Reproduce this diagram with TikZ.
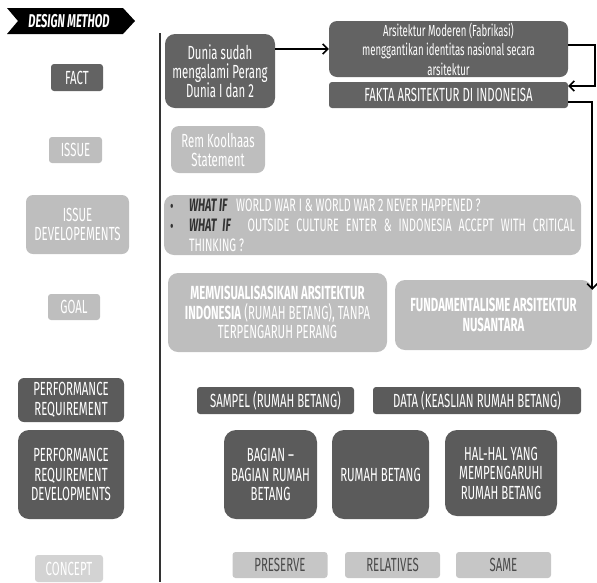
\documentclass[tikz,border=0pt]{standalone}
\usepackage{fontspec}
\setmainfont{Fira Sans}[FakeStretch=0.6]
\usetikzlibrary{arrows.meta}
\definecolor{dk}{HTML}{5B5B5B}
\definecolor{dkb}{HTML}{636363}
\definecolor{lt}{HTML}{BEBEBE}
\definecolor{ltc}{HTML}{D3D3D3}
\definecolor{ltp}{HTML}{C6C6C6}
\definecolor{ptx}{HTML}{4A4A4A}
\definecolor{wif}{HTML}{333333}
\newcommand\myfs{\fontsize{19}{19.5}\selectfont}
\newcommand\mymix{\fontsize{19}{19}\selectfont}
\newcommand\mysml{\fontsize{16}{19.5}\selectfont}
\begin{document}
\begin{tikzpicture}[x=1pt,y=-1pt,
  base/.style={rectangle, inner sep=0pt, align=center, font=\myfs},
  dkbox/.style={base, fill=dk, text=white},
  dkboxb/.style={base, fill=dkb, text=white},
  ltbox/.style={base, fill=lt, text=white},
  cbox/.style={base, fill=ltc, text=white},
  pbox/.style={base, fill=ltp, text=ptx, rounded corners=3pt, minimum width=95pt, minimum height=26pt},
  arr/.style={line width=1.6pt, black, -{Straight Barb[length=5pt,width=10pt,line width=1.6pt]}}
]
\useasboundingbox (0,0) rectangle (597,582);
% banner
\fill[black] (7,8) -- (123,8) -- (135,21) -- (123,34) -- (7,34) -- (18,21) -- cycle;
\node[base, text=white, font=\fontsize{18.5}{19}\selectfont\bfseries\itshape] (title) at (69,21) {DESIGN METHOD};
% divider
\draw[line width=1.3pt, black!80] (160,33) -- (160,582);
% left column
\node[dkboxb, rounded corners=3pt, minimum width=52pt, minimum height=27pt] (fact) at (77,77.5) {FACT};
\node[ltbox, rounded corners=3pt, minimum width=53pt, minimum height=26pt] (issue) at (75.5,150) {ISSUE};
\node[ltbox, rounded corners=7pt, minimum width=103pt, minimum height=59pt] (issuedev) at (77.5,224.5) {ISSUE\\DEVELOPEMENTS};
\node[ltbox, rounded corners=3pt, minimum width=52pt, minimum height=26pt] (goal) at (74,307) {GOAL};
\node[dkbox, rounded corners=6pt, minimum width=106pt, minimum height=44pt] (perfreq) at (71,400) {PERFORMANCE\\REQUIREMENT};
\node[dkbox, rounded corners=11pt, minimum width=106pt, minimum height=89pt] (prd) at (71,474.5) {PERFORMANCE\\REQUIREMENT\\DEVELOPMENTS};
\node[cbox, rounded corners=3pt, minimum width=68pt, minimum height=27pt] (concept) at (69,568.5) {CONCEPT};
% right column
\node[dkboxb, rounded corners=10pt, minimum width=110pt, minimum height=74pt, font=\mymix] (dunia) at (220,71) {Dunia sudah\\mengalami Perang\\Dunia I dan 2};
\node[dkboxb, rounded corners=8pt, minimum width=239pt, minimum height=56pt, font=\mysml] (arsi) at (448.5,49) {Arsitektur Moderen (Fabrikasi)\\menggantikan identitas nasional secara\\arsitektur};
\node[dkboxb, rounded corners=3pt, minimum width=239pt, minimum height=26pt] (fakta) at (448.5,95) {FAKTA ARSITEKTUR DI INDONEISA};
\node[ltbox, rounded corners=8pt, minimum width=94pt, minimum height=47pt, font=\mymix] (rem) at (218,149.5) {Rem Koolhaas\\Statement};
\node[ltbox, rounded corners=10pt, minimum width=417pt, minimum height=60pt, text width=405pt, align=justify,
  font=\fontsize{18}{20}\selectfont] (whatif) at (372.5,225)
  {\hangindent=19pt\hangafter=1\noindent\makebox[19pt][l]{\color{wif}\raisebox{-1pt}{\textbullet}}{\color{wif}\bfseries\itshape WHAT IF}\hspace{6pt} WORLD WAR I \& WORLD WAR 2 NEVER HAPPENED ?\par
   \hangindent=19pt\hangafter=1\noindent\makebox[19pt][l]{\color{wif}\raisebox{-1pt}{\textbullet}}{\color{wif}\bfseries\itshape WHAT IF}\hspace{10pt} OUTSIDE CULTURE ENTER \& INDONESIA ACCEPT WITH CRITICAL\linebreak THINKING ?\par};
\node[ltbox, rounded corners=10pt, minimum width=219pt, minimum height=79pt] (memvis) at (277.5,312.5)
  {\textbf{MEMVISUALISASIKAN ARSITEKTUR}\\\textbf{INDONESIA} (RUMAH BETANG), TANPA\\TERPENGARUH PERANG};
\node[ltbox, rounded corners=10pt, minimum width=197pt, minimum height=70pt] (fund) at (493.5,315)
  {\textbf{FUNDAMENTALISME ARSITEKTUR}\\\textbf{NUSANTARA}};
\node[dkbox, rounded corners=3pt, minimum width=157pt, minimum height=27pt] (sampel) at (275.5,400.5) {SAMPEL (RUMAH BETANG)};
\node[dkbox, rounded corners=3pt, minimum width=208pt, minimum height=27pt] (data) at (477,400.5) {DATA (KEASLIAN RUMAH BETANG)};
\node[dkbox, rounded corners=12pt, minimum width=93pt, minimum height=89pt] (bagian) at (270.5,474.5) {BAGIAN --\\BAGIAN RUMAH\\BETANG};
\node[dkbox, rounded corners=12pt, minimum width=97pt, minimum height=89pt] (rumah) at (380.5,474.5) {RUMAH BETANG};
\node[dkbox, rounded corners=12pt, minimum width=112pt, minimum height=86pt] (hal) at (501,473) {HAL-HAL YANG\\MEMPENGARUHI\\RUMAH BETANG};
\node[pbox] (preserve) at (280,565) {PRESERVE};
\node[pbox] (relatives) at (392.5,565) {RELATIVES};
\node[pbox] (same) at (503.5,565) {SAME};
% connectors
\draw[arr] (dunia.east |- arsi.west) -- (arsi.west);
\draw[arr] ([yshift=4pt]arsi.east) -- ++(27,0) |- ([yshift=9pt]fakta.east);
\draw[arr] ([yshift=-7pt]fakta.east) -- ++(24,0) -- ([yshift=-10pt]fund.north east);
\end{tikzpicture}
\end{document}
